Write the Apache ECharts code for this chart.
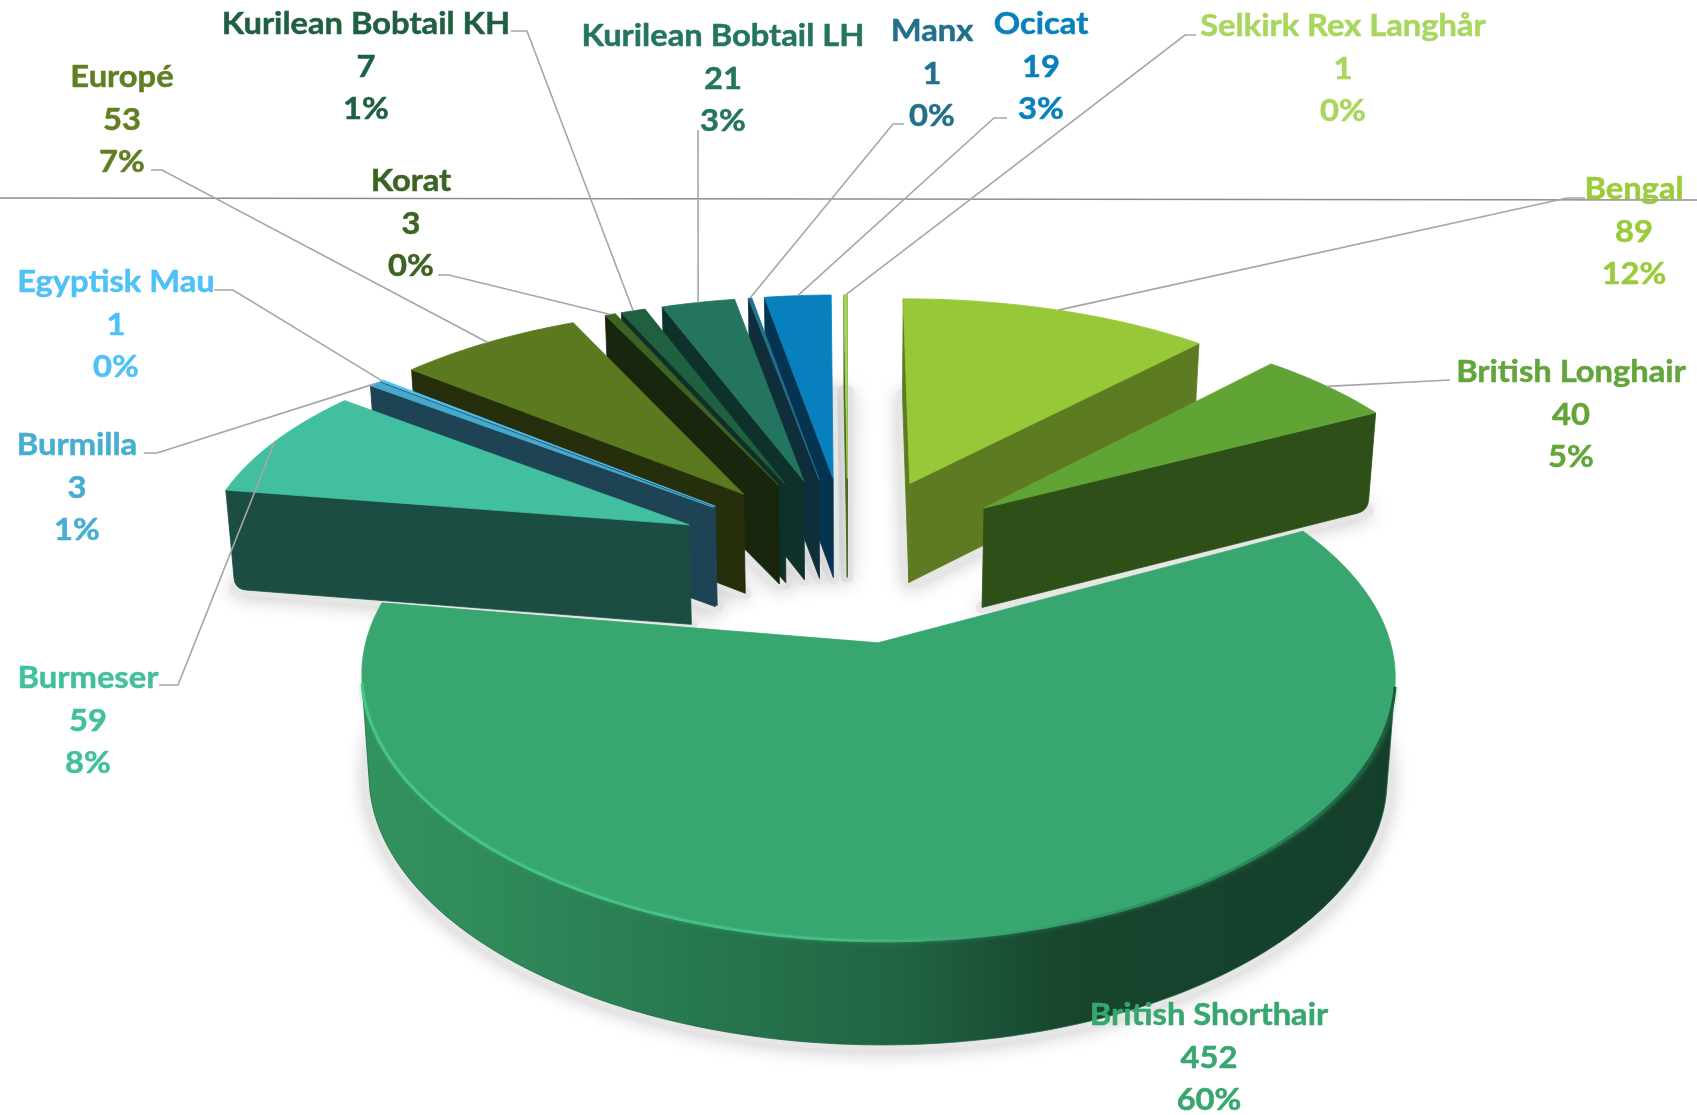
<!DOCTYPE html>
<html>
<head>
<meta charset="utf-8"/>
<title>Katteracer</title>
<script src="https://cdn.jsdelivr.net/npm/echarts@6/dist/echarts.min.js"></script>
<style>
html,body{margin:0;padding:0;background:#fff;}
#chart{width:1697px;height:1115px;}
</style>
</head>
<body>
<div id="chart"></div>
<script>
// data, clockwise from 12 o'clock
var names = ['Bengal','British Longhair','British Shorthair','Burmeser','Burmilla','Egyptisk Mau','Europé','Korat','Kurilean Bobtail KH','Kurilean Bobtail LH','Manx','Ocicat','Selkirk Rex Langhår'];
var values = [89,40,452,59,3,1,53,3,7,21,1,19,1];
var percents = ['12%','5%','60%','8%','1%','0%','7%','0%','1%','3%','0%','3%','0%'];

// colours
var topColors = ['#96c837','#61a436','#37a76f','#41bf9f','#46a9cb','#4ec0f5','#5b7a20','#3c6324','#1f6041','#247560','#23708d','#0880be','#a5d45c'];
var wallColors = ['#5d7c22','#2f4f18','#1f6644','#1b4d42','#1e4354','#1e4354','#262f0c','#17260c','#0f3026','#0f312b','#102d3a','#04344f','#4d6a1f'];
var labelColors = ['#9acb3c','#62a53a','#37a76f','#41bf9f','#46aed0','#4fc1f7','#5f7f22','#3c6324','#1f6041','#247560','#23708d','#0880be','#a9d65f'];

// label layout, px
var labelX = [1634,1571,1209,88,77,116,122,411,366,723,932,1041,1343];
var labelY = [232,415,1058,721,488,325,120,224,67,79,74,67,69];
var leaderFrom = [
    [[1585,198],[1567,198]],
    [[1450,380]],
    null,
    [[159,685],[178,685]],
    [[144,453],[157,453]],
    [[214,290],[233,290]],
    [[151,170],[162,170]],
    [[438,275],[449,275]],
    [[511,31],[527,31]],
    [[698,130]],
    [[904,124],[893,124]],
    [[1007,118],[994,118]],
    [[1196,35],[1185,35]]
];

// 3d view of the pie
var cx = 848, cy = 557, radiusX = 490, radiusY = 229.5;
var perspX = 0.123, perspY = 0.14, thick = 100, explode = 0.36;

var total = values.reduce(function (a, b) { return a + b; }, 0);
var slices = [];
var acc = 0;
values.forEach(function (v) {
    var a0 = acc / total * Math.PI * 2;
    acc += v;
    var a1 = acc / total * Math.PI * 2;
    slices.push({a0: a0, a1: a1, mid: (a0 + a1) / 2});
});
// back slices get painted first
var rank = [];
values.forEach(function (v, i) { rank.push(i); });
rank.sort(function (a, b) { return Math.cos(slices[b].mid) - Math.cos(slices[a].mid); });

function project(u, v, bottom) {
    var x = cx + radiusX * u / (1 + perspX * v);
    var y = cy - radiusY * v / (1 + perspY * v);
    if (bottom) {
        x = cx + (x - cx) * 0.985;
        y = y + thick * (1 - 0.03 * v);
    }
    return [x, y];
}
function rimPoint(s, a, bottom) {
    return project(Math.sin(a) + explode * Math.sin(s.mid), Math.cos(a) + explode * Math.cos(s.mid), bottom);
}
function tipPoint(s, bottom) {
    return project(explode * Math.sin(s.mid), explode * Math.cos(s.mid), bottom);
}
function area(pts) {
    var sum = 0;
    for (var i = 0; i < pts.length; i++) {
        var q = pts[(i + 1) % pts.length];
        sum += pts[i][0] * q[1] - q[0] * pts[i][1];
    }
    return sum / 2;
}
function poly(points, fill, z2, extra) {
    var style = {fill: fill, stroke: typeof fill === 'string' ? fill : '#1f6644', lineWidth: 0.8, lineJoin: 'round'};
    for (var k in extra) { style[k] = extra[k]; }
    return {type: 'polygon', z2: z2, shape: {points: points}, style: style, silent: true};
}
// rounds the lower outer corner of a cut face
function roundedWall(tipT, top, bot, tipB) {
    var r = 11;
    var d1 = Math.sqrt(Math.pow(top[0] - bot[0], 2) + Math.pow(top[1] - bot[1], 2));
    var d2 = Math.sqrt(Math.pow(tipB[0] - bot[0], 2) + Math.pow(tipB[1] - bot[1], 2));
    if (d2 < r * 3) { return [tipT, top, bot, tipB]; }
    var a = [bot[0] + (top[0] - bot[0]) * r / d1, bot[1] + (top[1] - bot[1]) * r / d1];
    var b = [bot[0] + (tipB[0] - bot[0]) * r / d2, bot[1] + (tipB[1] - bot[1]) * r / d2];
    var pts = [tipT, top];
    for (var t = 0; t <= 1.001; t += 0.2) {
        var c = (1 - t) * (1 - t), d = 2 * t * (1 - t), e = t * t;
        pts.push([c * a[0] + d * bot[0] + e * b[0], c * a[1] + d * bot[1] + e * b[1]]);
    }
    pts.push(tipB);
    return pts;
}

function renderSlice(params, api) {
    var i = params.dataIndex;
    var s = slices[i];
    var base = 100 + rank.indexOf(i) * 10;
    var steps = Math.max(2, Math.ceil((s.a1 - s.a0) / 0.02));
    var rimTop = [], rimBot = [];
    for (var n = 0; n <= steps; n++) {
        var a = s.a0 + (s.a1 - s.a0) * n / steps;
        rimTop.push(rimPoint(s, a, false));
        rimBot.push(rimPoint(s, a, true));
    }
    var tipT = tipPoint(s, false), tipB = tipPoint(s, true);
    var children = [];

    // soft floor shadow
    children.push(poly([tipB].concat(rimBot), '#e6e6e6', 10 + rank.indexOf(i), {
        stroke: '#e6e6e6', lineWidth: 12, shadowBlur: 20, shadowColor: 'rgba(0,0,0,0.16)', shadowOffsetY: 2
    }));

    // cut faces, only where they look at the camera
    var startWall = [tipT, rimTop[0], rimBot[0], tipB];
    var endWall = [tipT, rimTop[steps], rimBot[steps], tipB];
    if (area(startWall) < 0) { children.push(poly(roundedWall(tipT, rimTop[0], rimBot[0], tipB), wallColors[i], base + 1)); }
    if (area(endWall) > 0) { children.push(poly(roundedWall(tipT, rimTop[steps], rimBot[steps], tipB), wallColors[i], base + 2)); }

    // outer wall
    var runTop = [], runBot = [];
    for (var m = 0; m < steps; m++) {
        var quad = [rimTop[m], rimTop[m + 1], rimBot[m + 1], rimBot[m]];
        if (area(quad) < 0) {
            if (!runTop.length) { runTop.push(rimTop[m]); runBot.push(rimBot[m]); }
            runTop.push(rimTop[m + 1]);
            runBot.push(rimBot[m + 1]);
        }
    }
    if (runTop.length > 1) {
        var wallFill = i === 2 ? new echarts.graphic.LinearGradient(0, 0, 1, 0, [
            {offset: 0, color: '#32935f'},
            {offset: 0.12, color: '#2f8b5a'},
            {offset: 0.35, color: '#26754d'},
            {offset: 0.52, color: '#206444'},
            {offset: 0.68, color: '#17452e'},
            {offset: 1, color: '#14402b'}
        ]) : wallColors[i];
        children.push(poly(runTop.concat(runBot.slice().reverse()), wallFill, base + 3));
    }

    // top face
    children.push(poly([tipT].concat(rimTop), topColors[i], base + 4));

    // bevel highlight along the front edge
    if (runTop.length > 20) {
        children.push({
            type: 'polyline', z2: base + 5, silent: true,
            shape: {points: runTop},
            style: {
                fill: 'none', lineWidth: 3, lineJoin: 'round',
                stroke: new echarts.graphic.LinearGradient(0, 0, 1, 0, [
                    {offset: 0, color: '#47c688'},
                    {offset: 0.45, color: '#45bf83'},
                    {offset: 0.6, color: '#37a76f'},
                    {offset: 0.85, color: '#2a8a5b'},
                    {offset: 1, color: '#1b5a3c'}
                ]),
                shadowBlur: 4, shadowColor: 'rgba(60,170,120,0.6)'
            }
        });
    }

    // leader line
    if (leaderFrom[i]) {
        children.push({
            type: 'polyline', z2: 1000, silent: true,
            shape: {points: leaderFrom[i].concat([rimPoint(s, s.mid, false)])},
            style: {fill: 'none', stroke: '#a6a6a6', lineWidth: 1.6}
        });
    }

    // data label
    children.push({
        type: 'text', z2: 1001, silent: true,
        x: labelX[i], y: labelY[i], scaleX: 1.09,
        style: {
            text: names[i] + '\n' + api.value(0) + '\n' + percents[i],
            fill: labelColors[i], font: 'bold 30px Lato',
            stroke: labelColors[i], lineWidth: 0.5,
            align: 'center', verticalAlign: 'middle', lineHeight: 42.7
        }
    });
    return {type: 'group', children: children};
}

var myChart = echarts.init(document.getElementById('chart'));
myChart.setOption({
    animation: false,
    backgroundColor: '#fff',
    graphic: [{
        type: 'line', silent: true, z: 1,
        shape: {x1: 0, y1: 198, x2: 1697, y2: 200},
        style: {stroke: '#8c8c8c', lineWidth: 1.4}
    }],
    series: [{
        type: 'custom',
        coordinateSystem: 'none',
        data: values.map(function (v, i) { return {name: names[i], value: [v]}; }),
        renderItem: renderSlice
    }]
});
</script>
</body>
</html>
